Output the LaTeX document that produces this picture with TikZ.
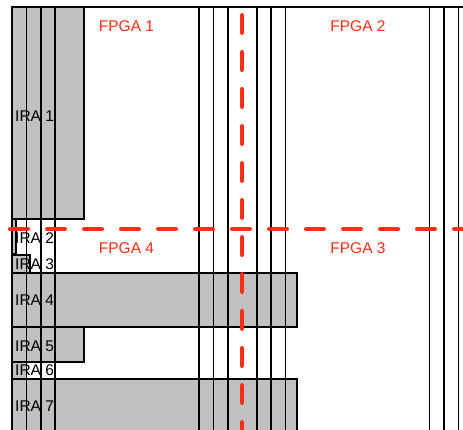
\documentclass[tikz,border=0pt]{standalone}
\usepackage{fontspec}
\setmainfont{Liberation Sans}
\definecolor{fpgared}{RGB}{255,45,18}
\definecolor{iragray}{RGB}{192,192,192}
\begin{document}
\begin{tikzpicture}[x=1pt,y=-1pt,
  irabox/.style={draw=black,line width=1.5pt,fill=iragray},
  colline/.style={draw=black,line width=1.5pt},
  cut/.style={draw=fpgared,line width=4.5pt,line cap=round,dash pattern=on 17.5pt off 19.5pt},
  fpgalabel/.style={text=fpgared,font=\fontsize{15.5}{15.5}\selectfont,inner sep=0pt},
  iralabel/.style={text=black,font=\fontsize{15.5}{15.5}\selectfont,inner sep=0pt,anchor=west}]
\useasboundingbox (0,0) rectangle (463,430);
% gray fills
\fill[iragray] (12,7) rectangle (84,219);
\fill[iragray] (12,219) rectangle (16,254);
\fill[iragray] (12,255) rectangle (30,273);
\fill[iragray] (12,273) rectangle (297,327);
\fill[iragray] (12,327) rectangle (84,362);
\fill[iragray] (12,362) rectangle (26.4,379);
\fill[iragray] (12,379) rectangle (297,434);
% column lines
\foreach \x in {26.4,40.8,55.2,199.2,213.6,228,256.8,271.2,285.6,429.6,444,458.4}
  \draw[colline] (\x,7) -- (\x,434);
% box outlines
\draw[irabox,fill=none] (12,7) rectangle (84,219);
\draw[irabox,fill=none] (12,219) rectangle (16,254);
\draw[irabox,fill=none] (12,255) rectangle (30,273);
\draw[irabox,fill=none] (12,273) rectangle (297,327);
\draw[irabox,fill=none] (12,327) rectangle (84,362);
\draw[irabox,fill=none] (12,362) rectangle (26.4,379);
\draw[irabox,fill=none] (12,379) rectangle (297,434);
% frame
\draw[black,line width=2pt] (12,434) -- (12,7) -- (465,7);
% labels
\node[iralabel] (ira1) at (15,116) {IRA 1};
\node[iralabel] (ira2) at (15,238) {IRA 2};
\node[iralabel] (ira3) at (15,264) {IRA 3};
\node[iralabel] (ira4) at (15,300) {IRA 4};
\node[iralabel] (ira5) at (15,346) {IRA 5};
\node[iralabel] (ira6) at (15,370) {IRA 6};
\node[iralabel] (ira7) at (15,406) {IRA 7};
% cut lines
\coordinate (hcs) at (10.25,229);
\coordinate (hce) at (475,229);
\coordinate (vcs) at (242,15.25);
\coordinate (vce) at (242,440);
\draw[cut] (hcs) -- (hce);
\draw[cut] (vcs) -- (vce);
\node[fpgalabel] (f1) at (126.5,26) {FPGA 1};
\node[fpgalabel] (f2) at (358,26) {FPGA 2};
\node[fpgalabel] (f4) at (126.5,248) {FPGA 4};
\node[fpgalabel] (f3) at (358,248) {FPGA 3};
\end{tikzpicture}
\end{document}
